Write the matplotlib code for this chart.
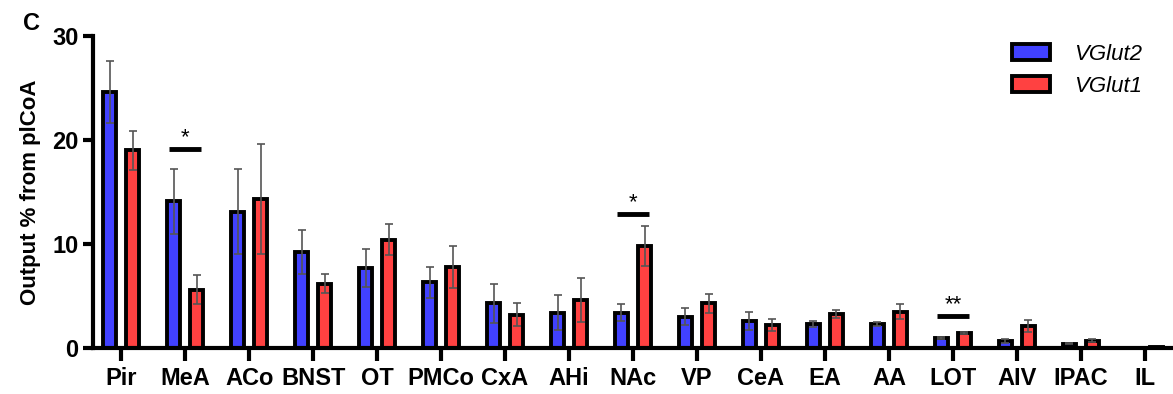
import matplotlib.pyplot as plt
import numpy as np

regions = ['Pir', 'MeA', 'ACo', 'BNST', 'OT', 'PMCo', 'CxA', 'AHi', 'NAc',
           'VP', 'CeA', 'EA', 'AA', 'LOT', 'AIV', 'IPAC', 'IL']
vglut2 = [24.6, 14.1, 13.1, 9.2, 7.7, 6.3, 4.3, 3.4, 3.4, 3.0, 2.6, 2.3, 2.3, 1.0, 0.7, 0.4, 0.02]
vglut2_err = [3.0, 3.1, 4.1, 2.1, 1.8, 1.5, 1.9, 1.7, 0.8, 0.8, 0.9, 0.3, 0.2, 0.1, 0.2, 0.05, 0.02]
vglut1 = [19.0, 5.6, 14.3, 6.2, 10.4, 7.8, 3.2, 4.6, 9.8, 4.3, 2.2, 3.3, 3.5, 1.4, 2.1, 0.7, 0.08]
vglut1_err = [1.9, 1.4, 5.3, 0.9, 1.5, 2.0, 1.1, 2.1, 1.9, 0.9, 0.6, 0.4, 0.7, 0.1, 0.6, 0.15, 0.03]

# significance: (region index, bar height, label)
sig = [(1, 19.1, '*'), (8, 12.9, '*'), (13, 3.1, '**')]

blue = '#4141FF'
red = '#FF4141'

plt.rcParams['font.family'] = ['Liberation Sans', 'DejaVu Sans']

fig = plt.figure(figsize=(11.73, 3.94), dpi=100)
ax = fig.add_axes([0.0793, 0.1168, 0.9207, 0.7918])

x = np.arange(len(regions))
off = 0.18
w = 0.21
ekw = dict(ecolor='#555555', elinewidth=1.2, capsize=3, capthick=1.2)
ax.bar(x - off, vglut2, w, color=blue, edgecolor='black', linewidth=2.8,
       yerr=vglut2_err, error_kw=ekw, label='VGlut2', zorder=2)
ax.bar(x + off, vglut1, w, color=red, edgecolor='black', linewidth=2.8,
       yerr=vglut1_err, error_kw=ekw, label='VGlut1', zorder=2)

for i, h, lab in sig:
    ax.plot([i - 0.25, i + 0.25], [h, h], color='black', lw=3.5, solid_capstyle='butt')
    ax.text(i, h + 0.1, lab, ha='center', va='bottom', fontsize=16)

ax.set_xlim(-0.44, len(regions) - 0.56)
ax.set_ylim(0, 30)
ax.set_yticks([0, 10, 20, 30])
ax.set_xticks(x)
ax.set_xticklabels(regions, fontsize=17, fontweight='bold')
ax.tick_params(axis='y', labelsize=17, width=3, length=7)
for t in ax.get_yticklabels():
    t.set_fontweight('bold')
ax.tick_params(axis='x', width=3, length=9, pad=5)
ax.spines['top'].set_visible(False)
ax.spines['right'].set_visible(False)
ax.spines['left'].set_linewidth(3)
ax.spines['bottom'].set_linewidth(3)
ax.set_ylabel('Output % from plCoA', fontsize=16, fontweight='bold', labelpad=8)
fig.text(0.02, 0.925, 'C', fontsize=17, fontweight='bold')

leg = ax.legend(loc='upper right', bbox_to_anchor=(0.99, 1.04), frameon=False,
                prop={'style': 'italic', 'size': 16}, handlelength=1.7,
                handleheight=0.7, handletextpad=1.1, labelspacing=0.5)

fig.savefig('out.png', dpi=100)
